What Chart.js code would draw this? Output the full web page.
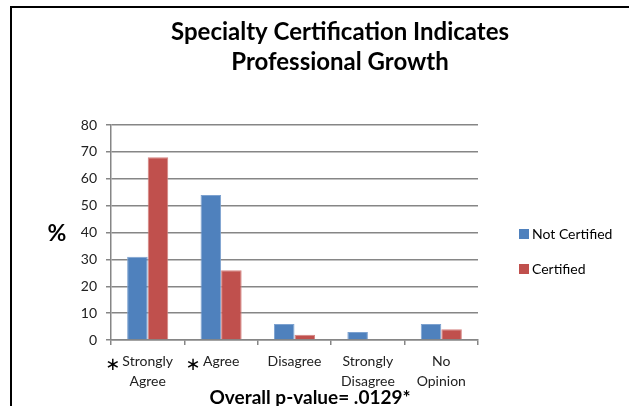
<!DOCTYPE html>
<html>
<head>
<meta charset="utf-8">
<script src="https://cdn.jsdelivr.net/npm/chart.js@4.4.1/dist/chart.umd.min.js"></script>
<style>
  body { margin: 0; background: #fff; }
  #wrap { width: 629px; height: 406px; position: relative; }
</style>
</head>
<body>
<div id="wrap"><canvas id="certChart"></canvas></div>
<script>
const categories = [["Strongly", "Agree"], ["Agree"], ["Disagree"], ["Strongly", "Disagree"], ["No", "Opinion"]];
const notCertified = [31, 54, 6, 3, 6];
const certified = [68, 26, 2, 0, 4];
const yTicks = [0, 10, 20, 30, 40, 50, 60, 70, 80];

const fontName = "Lato";

// title, % label, asterisks, p-value note, legend and frame
const extras = {
  id: "extras",
  afterDraw(chart) {
    const ctx = chart.ctx;
    const x = chart.scales.x;
    ctx.save();

    ctx.strokeStyle = "#000";
    ctx.lineWidth = 2;
    ctx.strokeRect(11, 7, 700, 500);

    ctx.fillStyle = "#000";
    ctx.textAlign = "center";
    ctx.textBaseline = "alphabetic";
    ctx.font = "bold 24px " + fontName;
    ctx.fillText("Specialty Certification Indicates", 340, 40);
    ctx.fillText("Professional Growth", 340, 70);

    ctx.textBaseline = "middle";
    ctx.font = "bold 23px " + fontName;
    ctx.fillText("%", 57, 234);

    ctx.textBaseline = "alphabetic";
    ctx.font = "18px 'DejaVu Sans'";
    ctx.fillText("\u2217", x.getPixelForValue(0) - 35, 370);
    ctx.fillText("\u2217", x.getPixelForValue(1) - 28, 370);

    ctx.font = "bold 19px " + fontName;
    ctx.fillText("Overall p-value= .0129*", 310, 404);

    ctx.textAlign = "left";
    ctx.textBaseline = "middle";
    ctx.font = "14px " + fontName;
    const rows = [234, 269];
    chart.data.datasets.forEach((ds, i) => {
      ctx.fillStyle = ds.backgroundColor;
      ctx.fillRect(519, rows[i] - 5, 10, 10);
      ctx.fillStyle = "#000";
      ctx.fillText(ds.label, 532, rows[i]);
    });
    ctx.restore();
  },
};

const chartCtx = document.querySelector("#certChart").getContext("2d");

const certBarChart = new Chart(chartCtx, {
  type: "bar",
  data: {
    labels: categories,
    datasets: [
      {
        label: "Not Certified",
        data: notCertified,
        backgroundColor: "#4f81bd",
        borderColor: "#7da2d0",
        borderWidth: 1,
      },
      {
        label: "Certified",
        data: certified,
        backgroundColor: "#c0504d",
        borderColor: "#d48482",
        borderWidth: 1,
      },
    ],
  },
  options: {
    responsive: true,
    maintainAspectRatio: false,
    animation: false,
    categoryPercentage: 0.56,
    barPercentage: 1,
    layout: {
      padding: { top: 125, right: 151, bottom: 0, left: 0 },
    },
    plugins: {
      legend: { display: false },
      title: { display: false },
      tooltip: { enabled: false },
    },
    scales: {
      x: {
        grid: {
          offset: true,
          drawOnChartArea: false,
          drawTicks: true,
          tickLength: 5,
          color: "#868686",
          lineWidth: 1.5,
        },
        border: { color: "#868686", width: 1.5 },
        ticks: {
          color: "#222",
          font: { family: fontName, size: 14, lineHeight: 1.43 },
          padding: 6,
          maxRotation: 0,
          autoSkip: false,
        },
        afterFit(scale) {
          scale.height = 66;
        },
      },
      y: {
        min: 0,
        max: 80,
        afterBuildTicks(scale) {
          scale.ticks = yTicks.map((v) => ({ value: v }));
        },
        grid: {
          color: "#868686",
          lineWidth: 1.5,
          tickLength: 5,
        },
        border: { color: "#868686", width: 1.5 },
        ticks: {
          color: "#222",
          font: { family: fontName, size: 14 },
          padding: 9,
        },
        afterFit(scale) {
          scale.width = 111;
        },
      },
    },
  },
  plugins: [extras],
});
</script>
</body>
</html>
